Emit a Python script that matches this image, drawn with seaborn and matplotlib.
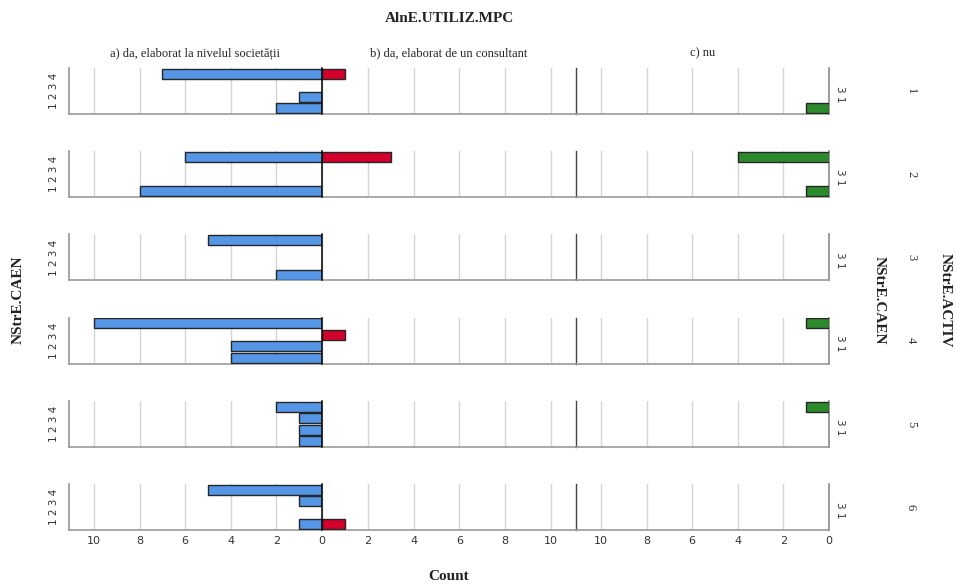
import matplotlib
matplotlib.use("Agg")
import matplotlib.pyplot as plt
import seaborn as sns
import pandas as pd

# ---------------- data ----------------
activ_levels = ["1", "2", "3", "4", "5", "6"]
caen_levels = ["4", "3", "2", "1"]          # top to bottom within a panel
responses = ["a) da, elaborat la nivelul societății",
             "b) da, elaborat de un consultant",
             "c) nu"]

# counts per panel (NStrE.ACTIV) for CAEN categories [4, 3, 2, 1]
resp_a = {"1": [7, 0, 1, 2], "2": [6, 0, 0, 8], "3": [5, 0, 0, 2],
          "4": [10, 0, 4, 4], "5": [2, 1, 1, 1], "6": [5, 1, 0, 1]}
resp_b = {"1": [1, 0, 0, 0], "2": [3, 0, 0, 0], "3": [0, 0, 0, 0],
          "4": [0, 1, 0, 0], "5": [0, 0, 0, 0], "6": [0, 0, 0, 1]}
resp_c = {"1": [0, 0, 0, 1], "2": [4, 0, 0, 1], "3": [0, 0, 0, 0],
          "4": [1, 0, 0, 0], "5": [1, 0, 0, 0], "6": [0, 0, 0, 0]}

x_ticks = [0, 2, 4, 6, 8, 10]
colors = ["#5596e6", "#d3002c", "#2b8a2b"]

rows = []
for r, table in zip(responses, [resp_a, resp_b, resp_c]):
    for a in activ_levels:
        for c, v in zip(caen_levels, table[a]):
            rows.append({"resp": r, "activ": a, "caen": c, "count": v})
df = pd.DataFrame(rows)

# ---------------- figure ----------------
sns.set_theme(style="white")
plt.rcParams["font.family"] = ["DejaVu Sans"]
W, H = 956, 585
fig = plt.figure(figsize=(W / 100, H / 100), dpi=100)

col_x = [(69, 322), (322, 576), (576, 829)]
xmax = 11.1
panel_h = 46
row_top0 = 68
row_step = 83.2
serif = ["Liberation Serif", "DejaVu Serif"]

for i, a in enumerate(activ_levels):
    top = row_top0 + row_step * i
    for j, (r, col) in enumerate(zip(responses, colors)):
        x0, x1 = col_x[j]
        ax = fig.add_axes([x0 / W, 1 - (top + panel_h) / H, (x1 - x0) / W, panel_h / H])
        sub = df[(df.resp == r) & (df.activ == a) & (df["count"] > 0)]
        if len(sub):
            sns.barplot(data=sub, x="count", y="caen", order=caen_levels, orient="h",
                        color=col, width=0.87, edgecolor="#262626", linewidth=1.0,
                        saturation=1, ax=ax, zorder=3)
        ax.set_ylim(3.5, -0.5)
        if j == 1:
            ax.set_xlim(0, xmax)
        else:
            ax.set_xlim(xmax, 0)
        ax.set_xticks(x_ticks)
        ax.set_yticks([])
        ax.set_xlabel("")
        ax.set_ylabel("")
        ax.grid(axis="x", color="#d4d4d4", linewidth=1.0, zorder=0)
        ax.grid(axis="y", visible=False)
        ax.tick_params(axis="x", length=0, labelsize=8, colors="#333333", pad=4)
        if i < len(activ_levels) - 1:
            ax.set_xticklabels([])
        elif j == 1:
            ax.set_xticklabels([""] + [str(t) for t in x_ticks[1:]])
        for s in ax.spines.values():
            s.set_visible(False)
        ax.spines["bottom"].set_visible(True)
        ax.spines["bottom"].set_color("#9a9a9a")
        ax.spines["bottom"].set_linewidth(1.2)
        if j == 0:
            ax.spines["left"].set_visible(True)
            ax.spines["left"].set_color("#9a9a9a")
        elif j == 1:
            ax.spines["left"].set_visible(True)
            ax.spines["left"].set_color("#000000")
            ax.spines["left"].set_linewidth(1.1)
            ax.spines["left"].set_zorder(6)
            ax.spines["right"].set_visible(True)
            ax.spines["right"].set_color("#444444")
            ax.spines["right"].set_linewidth(1.0)
            ax.spines["right"].set_zorder(6)
        else:
            ax.spines["right"].set_visible(True)
            ax.spines["right"].set_color("#8a8a8a")
            ax.spines["right"].set_linewidth(1.2)
        ax.set_facecolor("none")

    yc = 1 - (top + panel_h / 2) / H
    fig.text(54 / W, yc, "1 2 3 4", rotation=90, ha="center", va="center",
             fontsize=7.5, color="#333333")
    fig.text(840 / W, 1 - (top + 26) / H, "3 1", rotation=270, ha="center", va="center",
             fontsize=7.5, color="#333333")
    fig.text(911 / W, yc, a, rotation=270, ha="center", va="center",
             fontsize=9, color="#333333", family=serif)

# headers and titles
fig.text(449 / W, 1 - 18 / H, "AlnE.UTILIZ.MPC", ha="center", va="center",
         fontsize=11, fontweight="bold", family=serif, color="#222222")
for (x0, x1), r in zip(col_x, responses):
    fig.text((x0 + x1) / 2 / W, 1 - 53 / H, r, ha="center", va="center",
             fontsize=9, family=serif, color="#222222")
fig.text(449 / W, 1 - 576 / H, "Count", ha="center", va="center",
         fontsize=11, fontweight="bold", family=serif, color="#222222")
fig.text(18 / W, 1 - 300 / H, "NStrE.CAEN", rotation=90, ha="center", va="center",
         fontsize=11, fontweight="bold", family=serif, color="#222222")
fig.text(879 / W, 1 - 300 / H, "NStrE.CAEN", rotation=270, ha="center", va="center",
         fontsize=11, fontweight="bold", family=serif, color="#222222")
fig.text(945 / W, 1 - 300 / H, "NStrE.ACTIV", rotation=270, ha="center", va="center",
         fontsize=11, fontweight="bold", family=serif, color="#222222")

fig.savefig("out.png", dpi=100, facecolor="white")
